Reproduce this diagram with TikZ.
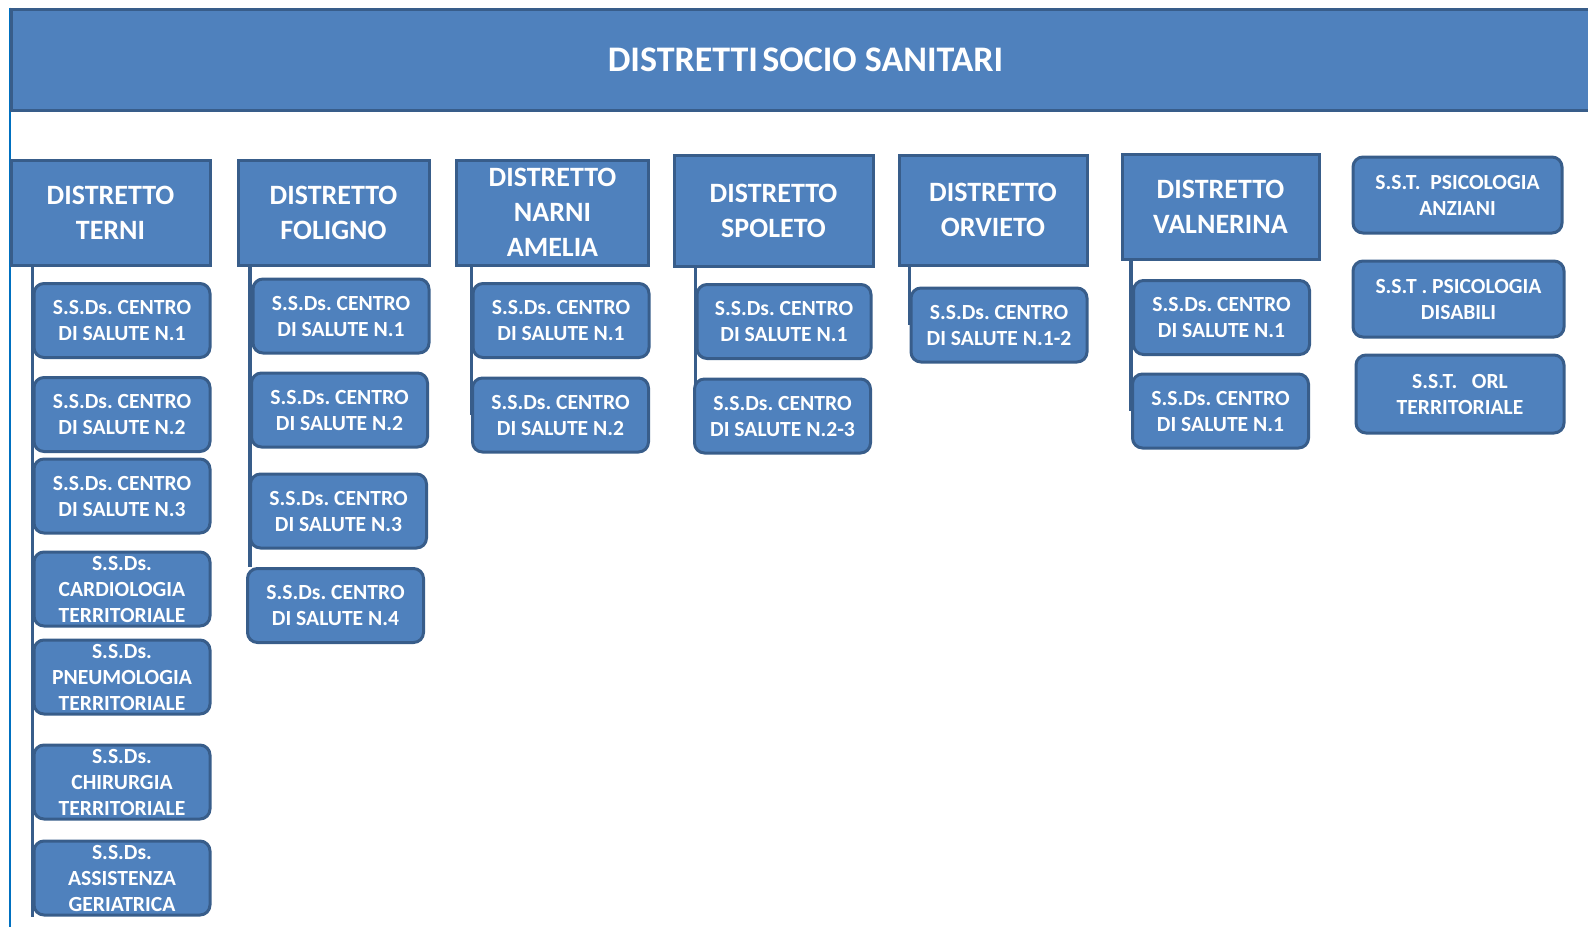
\documentclass[tikz,border=0pt]{standalone}
\usepackage{fontspec}
\setmainfont{Carlito}
\frenchspacing
\usetikzlibrary{positioning, backgrounds}
\definecolor{blu}{HTML}{4F81BD}
\definecolor{bordo}{HTML}{385D8A}
\definecolor{azzurro}{HTML}{0070C0}

\begin{document}
\begin{tikzpicture}[x=0.5pt, y=-0.5pt, align=center, text=white, inner sep=0pt,
  titolo/.style={draw=bordo, line width=1.5pt, fill=blu, minimum width=794.5pt, minimum height=50.5pt, font=\fontsize{18}{22}\selectfont\bfseries},
  distretto/.style={draw=bordo, line width=1.5pt, fill=blu, minimum width=96pt, minimum height=52.5pt, font=\fontsize{14}{17.5}\selectfont\bfseries},
  ssd/.style={draw=bordo, line width=1.5pt, fill=blu, rounded corners=5pt, minimum width=88pt, minimum height=37pt, font=\fontsize{10.8}{13}\selectfont\bfseries},
  linea/.style={draw=bordo, line width=1.75pt}]
\useasboundingbox (0,0) rectangle (1588,927);

\node (intestazione) [titolo] at (805.5,59.5) {DISTRETTI\hspace{0.12em}SOCIO SANITARI};

\node (terni) [distretto, minimum width=99.5pt] at (110.5,212.5) {DISTRETTO\\TERNI};
\node (foligno) [distretto, minimum width=95.5pt] at (333.5,212.5) {DISTRETTO\\FOLIGNO};
\node (narni) [distretto] at (552.5,212.5) {DISTRETTO\\NARNI\\AMELIA};
\node (spoleto) [distretto, minimum width=99.5pt, minimum height=55.5pt] at (773.5,210.5) {DISTRETTO\\SPOLETO};
\node (orvieto) [distretto, minimum width=94pt, minimum height=55pt] at (993,210) {DISTRETTO\\ORVIETO};
\node (valnerina) [distretto, minimum width=98.5pt] at (1220.5,207) {DISTRETTO\\VALNERINA};

\node (t1) [ssd] at (122,320.5) {S.S.Ds. CENTRO\\DI SALUTE N.1};
\node (t2) [ssd] at (122,414.5) {S.S.Ds. CENTRO\\DI SALUTE N.2};
\node (t3) [ssd] at (122,496) {S.S.Ds. CENTRO\\DI SALUTE N.3};
\node (t4) [ssd] at (122,589) {S.S.Ds.\\CARDIOLOGIA\\TERRITORIALE};
\node (t5) [ssd] at (122,677) {S.S.Ds.\\PNEUMOLOGIA\\TERRITORIALE};
\node (t6) [ssd] at (122,782) {S.S.Ds.\\CHIRURGIA\\TERRITORIALE};
\node (t7) [ssd] at (122,878) {S.S.Ds.\\ASSISTENZA\\GERIATRICA};

\node (f1) [ssd] at (341,316) {S.S.Ds. CENTRO\\DI SALUTE N.1};
\node (f2) [ssd] at (339.5,410) {S.S.Ds. CENTRO\\DI SALUTE N.2};
\node (f3) [ssd] at (338.5,511) {S.S.Ds. CENTRO\\DI SALUTE N.3};
\node (f4) [ssd] at (335.5,605.5) {S.S.Ds. CENTRO\\DI SALUTE N.4};

\node (n1) [ssd] at (561,320.5) {S.S.Ds. CENTRO\\DI SALUTE N.1};
\node (n2) [ssd] at (560.5,415) {S.S.Ds. CENTRO\\DI SALUTE N.2};

\node (s1) [ssd, minimum width=87pt] at (784,321.5) {S.S.Ds. CENTRO\\DI SALUTE N.1};
\node (s2) [ssd] at (782.5,416) {S.S.Ds. CENTRO\\DI SALUTE N.2-3};

\node (o1) [ssd] at (999,325) {S.S.Ds. CENTRO\\DI SALUTE N.1-2};

\node (v1) [ssd] at (1221.5,317.5) {S.S.Ds. CENTRO\\DI SALUTE N.1};
\node (v2) [ssd] at (1220.5,411) {S.S.Ds. CENTRO\\DI SALUTE N.1};

\node (anziani) [ssd, minimum width=104.5pt, minimum height=38pt] at (1457.5,195) {S.S.T.~~PSICOLOGIA\\ANZIANI};
\node (disabili) [ssd, minimum width=105.5pt, minimum height=38pt] at (1458.5,299) {S.S.T . PSICOLOGIA\\DISABILI};
\node (orl) [ssd, minimum width=104pt, minimum height=39pt] at (1460,394) {S.S.T.~~~ORL\\TERRITORIALE};

\coordinate (fondo) at (9.5,927);
\begin{scope}[on background layer]
\draw[azzurro, line width=1pt] (intestazione.north west -| fondo) -- (fondo);
\draw[linea] (terni.south -| t1.west) -- (t1.west |- t7.south);
\draw[linea] (foligno.south -| f2.west) -- (f2.west |- f4.north);
\draw[linea] (narni.south -| n1.west) -- (n1.west |- n2.center);
\draw[linea] (spoleto.south -| s1.west) -- (s1.west |- s2.center);
\draw[linea] (orvieto.south -| o1.west) -- (o1.west |- o1.center);
\draw[linea] (valnerina.south -| v2.west) -- (v2.west |- v2.center);
\end{scope}
\end{tikzpicture}
\end{document}
